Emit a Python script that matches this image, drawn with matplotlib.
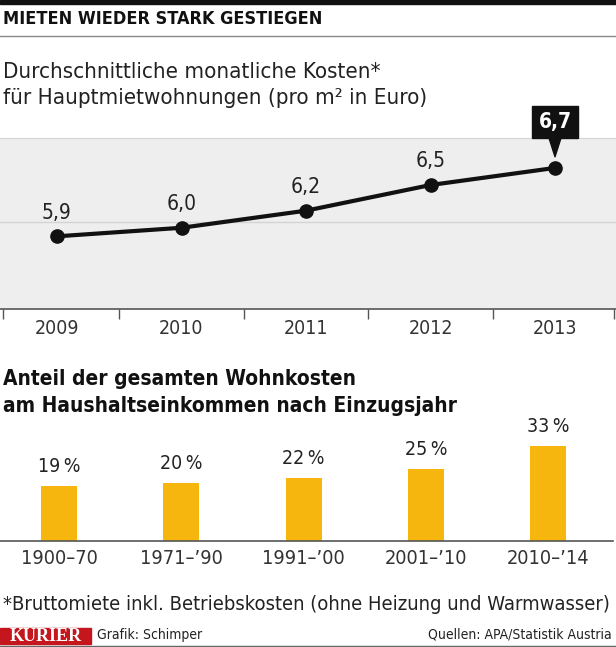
import matplotlib
matplotlib.use("Agg")
import matplotlib.pyplot as plt
from matplotlib import font_manager
from matplotlib.patches import Rectangle
from matplotlib.lines import Line2D

# line chart: average monthly rent per m2
years = ["2009", "2010", "2011", "2012", "2013"]
rent = [5.9, 6.0, 6.2, 6.5, 6.7]
rent_labels = ["5,9", "6,0", "6,2", "6,5", "6,7"]

# bar chart: share of housing costs by year of moving in
periods = ["1900–70", "1971–’90", "1991–’00", "2001–’10", "2010–’14"]
share = [19, 20, 22, 25, 33]
share_labels = ["19\u2009%", "20\u2009%", "22\u2009%", "25\u2009%", "33\u2009%"]

names = {f.name for f in font_manager.fontManager.ttflist}
if "Liberation Sans Narrow" in names:
    FONT = dict(family=["Liberation Sans Narrow", "DejaVu Sans"])
else:
    FONT = dict(family=["DejaVu Sans"], stretch="condensed")

W, H = 616, 647
def fx(px):
    return px / W
def fy(py):
    return 1 - py / H

fig = plt.figure(figsize=(W / 100, H / 100), dpi=100)
fig.patch.set_facecolor("white")

# header
fig.add_artist(Rectangle((0, fy(4)), 1, 4 / H, color="#111111", transform=fig.transFigure))
fig.text(fx(3), fy(18.5), "MIETEN WIEDER STARK GESTIEGEN", weight="bold", size=13,
         va="center", ha="left", color="#111111", **FONT)
fig.add_artist(Line2D([0, 1], [fy(36), fy(36)], color="#8a8a8a", lw=1, transform=fig.transFigure))
fig.text(fx(3), fy(78), "Durchschnittliche monatliche Kosten*", size=16, va="baseline",
         ha="left", color="#222222", **FONT)
fig.text(fx(3), fy(104), "für Hauptmietwohnungen (pro m² in Euro)", size=16, va="baseline",
         ha="left", color="#222222", **FONT)

# ---- line chart
ax = fig.add_axes([0, fy(309), 1, (309 - 138) / H])
ax.set_facecolor("#eeeeee")
x0, x1 = -57 / 124.5, (616 - 57) / 124.5
ax.set_xlim(x0, x1)
ax.set_ylim(5.05, 7.05)
for s in ["left", "right"]:
    ax.spines[s].set_visible(False)
ax.spines["top"].set_color("#d4d4d4")
ax.spines["bottom"].set_color("#555555")
ax.spines["bottom"].set_linewidth(1.2)
ax.axhline(6.07, color="#d4d4d4", lw=1, zorder=1)
x = list(range(len(years)))
ax.plot(x, rent, color="#111111", lw=3, marker="o", ms=9.5, zorder=3, clip_on=False)
for i, (v, lbl) in enumerate(zip(rent, rent_labels)):
    if i < len(rent) - 1:
        ax.annotate(lbl, (i, v), xytext=(0, 17), textcoords="offset points", ha="center",
                    va="center", size=15, color="#222222", **FONT)
    else:
        ax.annotate(lbl, (i, v), xytext=(0, 33), textcoords="offset points", ha="center",
                    va="center", size=15, color="white", weight="bold",
                    bbox=dict(boxstyle="square,pad=0.3", fc="#111111", ec="#111111"),
                    arrowprops=dict(arrowstyle="wedge,tail_width=0.55", fc="#111111",
                                    ec="#111111", shrinkA=0, shrinkB=8),
                    annotation_clip=False, **FONT)
ax.set_yticks([])
seps = [x0 + 0.025] + [i + 0.5 for i in range(len(years) - 1)] + [x1 - 0.02]
ax.set_xticks(seps)
ax.set_xticklabels([])
ax.set_xticks(x, minor=True)
ax.set_xticklabels(years, minor=True, size=14, color="#333333", **FONT)
ax.tick_params(axis="x", which="major", length=7, width=1, color="#555555", direction="out")
ax.tick_params(axis="x", which="minor", length=0, pad=7)

# ---- section 2 title
fig.text(fx(3), fy(385), "Anteil der gesamten Wohnkosten", weight="bold", size=15,
         va="baseline", ha="left", color="#111111", **FONT)
fig.text(fx(3), fy(412), "am Haushaltseinkommen nach Einzugsjahr", weight="bold", size=15,
         va="baseline", ha="left", color="#111111", **FONT)

# ---- bar chart
bx = fig.add_axes([0, fy(541), fx(613), (541 - 420) / H])
bx.set_facecolor("none")
bx.set_xlim(-0.483, 4.53)
bx.set_ylim(0, 121 / 2.88)
for s in ["left", "right", "top"]:
    bx.spines[s].set_visible(False)
bx.spines["bottom"].set_color("#555555")
bx.spines["bottom"].set_linewidth(1.2)
xb = list(range(len(periods)))
bx.bar(xb, share, width=0.295, color="#f6b60e", zorder=2)
for i, (v, lbl) in enumerate(zip(share, share_labels)):
    bx.annotate(lbl, (i, v), xytext=(0, 14), textcoords="offset points", ha="center",
                va="center", size=14, color="#222222", annotation_clip=False, **FONT)
bx.set_yticks([])
bx.set_xticks(xb)
bx.set_xticklabels(periods, size=14.3, color="#333333", **FONT)
bx.tick_params(axis="x", length=0, pad=6)

# ---- footnote and footer
fig.text(fx(3), fy(604), "*Bruttomiete inkl. Betriebskosten (ohne Heizung und Warmwasser)",
         size=14.5, va="center", ha="left", color="#222222", **FONT)
fig.add_artist(Rectangle((0, fy(644)), fx(91), 16 / H, color="#c4161c", transform=fig.transFigure))
fig.text(fx(45.5), fy(636.5), "KURIER", family="Liberation Serif", weight="bold", size=13,
         color="white", ha="center", va="center")
fig.text(fx(97), fy(635), "Grafik: Schimper", size=10, va="center", ha="left",
         color="#222222", **FONT)
fig.text(fx(612), fy(635), "Quellen: APA/Statistik Austria", size=10, va="center", ha="right",
         color="#222222", **FONT)
fig.add_artist(Line2D([0, 1], [fy(645.5), fy(645.5)], color="#666666", lw=1, transform=fig.transFigure))

fig.savefig("out.png", dpi=100)
